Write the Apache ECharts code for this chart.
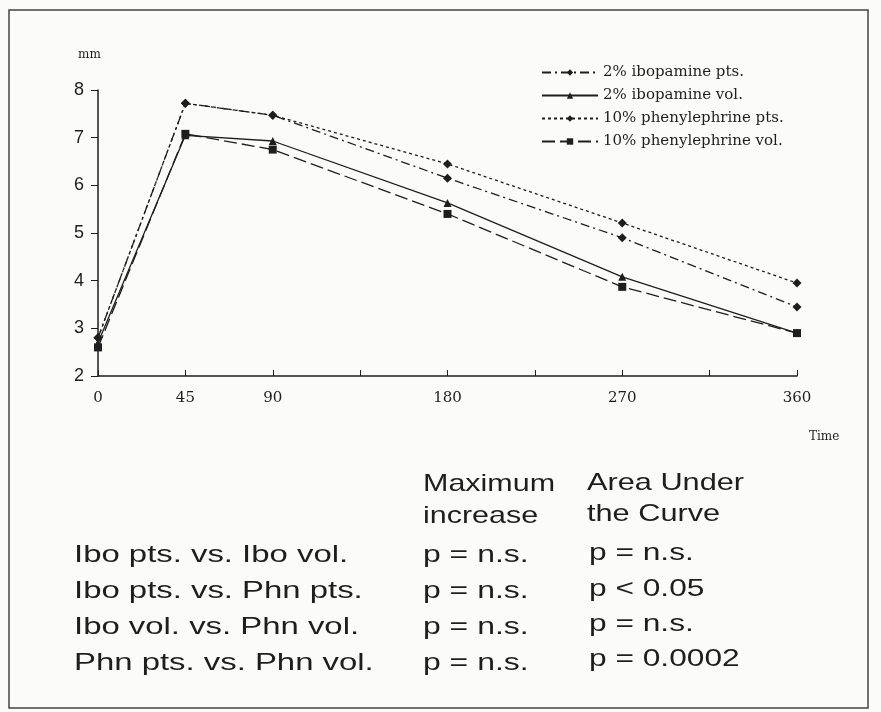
<!DOCTYPE html>
<html><head><meta charset="utf-8">
<script src="https://cdn.jsdelivr.net/npm/echarts@6/dist/echarts.min.js"></script>
<style>html,body{margin:0;padding:0;background:#fbfbf9;}#c{width:881px;height:712px;}</style>
</head><body><div id="c"></div>
<script>
const times = [0, 45, 90, 180, 270, 360];
const iboPts = [2.8, 7.72, 7.47, 6.15, 4.9, 3.45];
const iboVol = [2.7, 7.05, 6.93, 5.63, 4.08, 2.9];
const phnPts = [2.8, 7.72, 7.47, 6.45, 5.21, 3.95];
const phnVol = [2.6, 7.08, 6.75, 5.4, 3.87, 2.9];
const seriesNames = ['2% ibopamine pts.', '2% ibopamine vol.', '10% phenylephrine pts.', '10% phenylephrine vol.'];
const xLabels = [0, 45, 90, 180, 270, 360];
const tableHeader1 = ['Maximum', 'Area Under'];
const tableHeader2 = ['increase', 'the Curve'];
const tableRows = ['Ibo pts. vs. Ibo vol.', 'Ibo pts. vs. Phn pts.', 'Ibo vol. vs. Phn vol.', 'Phn pts. vs. Phn vol.'];
const colMax = ['p = n.s.', 'p = n.s.', 'p = n.s.', 'p = n.s.'];
const colAuc = ['p = n.s.', 'p < 0.05', 'p = n.s.', 'p = 0.0002'];

const ink = '#1e1e1e';
const pair = arr => times.map((t, i) => [t, arr[i]]);
function mk(name, data, type, symbol, size) {
  return {
    name, type: 'line', data: pair(data), symbol, symbolSize: size,
    lineStyle: { color: ink, width: 1.3, type },
    itemStyle: { color: ink },
    emphasis: { disabled: true }, z: 3
  };
}
const serif = '"DejaVu Serif", "Liberation Serif", serif';
const sans = '"Liberation Sans", Arial, sans-serif';
const tfont = '24px ' + sans;

function txt(text, x, y, sx, font) {
  return { type: 'text', x, y, scaleX: sx, silent: true,
    style: { text, font: font || tfont, fill: ink, verticalAlign: 'middle', align: 'left' } };
}

const graphics = [
  { type: 'rect', shape: { x: 9, y: 10, width: 859, height: 698 }, style: { fill: 'none', stroke: '#444', lineWidth: 1.5 }, silent: true },
  txt('mm', 78, 55, 1, '12px ' + serif),
  txt('Time', 809, 437, 1, '12px ' + serif),
  txt(tableHeader1[0], 423, 484, 1.27),
  txt(tableHeader1[1], 587, 483, 1.28),
  txt(tableHeader2[0], 423, 516, 1.27),
  txt(tableHeader2[1], 587, 514, 1.28)
];
const rowY = [555, 591, 627, 663];
const aucY = [553, 589, 624, 659];
tableRows.forEach((r, i) => {
  graphics.push(txt(r, 74, rowY[i], 1.37));
  graphics.push(txt(colMax[i], 423, rowY[i], 1.33));
  graphics.push(txt(colAuc[i], 589, aucY[i], 1.32));
});

const chart = echarts.init(document.getElementById('c'));
chart.setOption({
  animation: false,
  backgroundColor: '#fbfbf9',
  grid: { left: 98, right: 84, top: 90, bottom: 336 },
  legend: {
    data: seriesNames, orient: 'vertical', left: 536, top: 60,
    itemWidth: 56, itemHeight: 8, itemGap: 8,
    textStyle: { fontFamily: serif, fontSize: 15, color: ink }
  },
  xAxis: {
    type: 'value', min: 0, max: 360, interval: 45,
    axisLine: { lineStyle: { color: ink, width: 1.5 } },
    axisTick: { inside: true, length: 6, lineStyle: { color: ink } },
    splitLine: { show: false },
    axisLabel: {
      margin: 15, fontFamily: serif, fontSize: 15, color: ink,
      formatter: v => xLabels.indexOf(v) >= 0 ? String(v) : ''
    }
  },
  yAxis: {
    type: 'value', min: 2, max: 8, interval: 1,
    axisLine: { show: true, lineStyle: { color: ink, width: 1.5 } },
    axisTick: { show: true, length: 7, lineStyle: { color: ink } },
    splitLine: { show: false },
    axisLabel: { margin: 14, fontFamily: sans, fontSize: 18, color: ink }
  },
  series: [
    mk(seriesNames[0], iboPts, [9, 4, 2, 4], 'diamond', 9),
    mk(seriesNames[1], iboVol, 'solid', 'triangle', 8),
    mk(seriesNames[2], phnPts, [3, 3], 'diamond', 9),
    mk(seriesNames[3], phnVol, [13, 5], 'rect', 8)
  ],
  graphic: graphics
});
</script></body></html>
